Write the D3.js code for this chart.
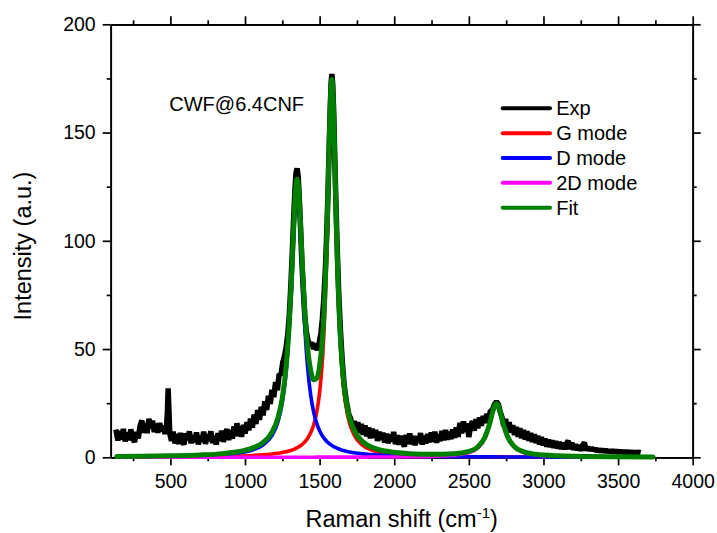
<!DOCTYPE html>
<html>
<head>
<meta charset="utf-8">
<script src="https://cdn.jsdelivr.net/npm/d3@7"></script>
<style>
  body { margin: 0; background: #fff; }
  svg text { font-family: "Liberation Sans", Arial, sans-serif; fill: #000; }
</style>
</head>
<body>
<div id="chart"></div>
<script>

// x ticks / y ticks
let x_major_ticks = [500, 1000, 1500, 2000, 2500, 3000, 3500, 4000];
let x_minor_ticks = [250, 750, 1250, 1750, 2250, 2750, 3250, 3750];
let y_major_ticks = [0, 50, 100, 150, 200];
let y_minor_ticks = [25, 75, 125, 175];

// experimental spectrum, [raman shift, intensity]
let exp_data = [
    [135, 12.8], [148, 7.8], [160, 12.2], [172, 8.2], [185, 13.1], [197, 7.4], [210, 11.4], [222, 8.0],
    [235, 12.9], [247, 8.6], [260, 7.1], [272, 11.7], [285, 8.8], [297, 14.6], [309, 17.0], [320, 11.4],
    [332, 15.7], [344, 11.2], [356, 17.8], [368, 13.5], [380, 16.9], [392, 11.7], [404, 15.6], [416, 11.4],
    [428, 15.8], [440, 12.1], [452, 14.6], [464, 10.8], [474, 14.0], [480, 21.0], [485, 31.8], [490, 22.0],
    [496, 11.0], [507, 7.6], [519, 11.8], [531, 6.4], [543, 10.6], [555, 6.2], [567, 11.2], [579, 7.4],
    [591, 5.9], [603, 11.0], [615, 8.0], [627, 12.0], [639, 6.5], [651, 10.3], [663, 6.9], [675, 11.5],
    [687, 6.0], [699, 9.9], [711, 7.2], [723, 11.8], [735, 6.2], [747, 10.6], [759, 7.5], [771, 12.0],
    [783, 6.6], [795, 9.9], [807, 5.9], [819, 11.2], [831, 7.7], [843, 12.3], [855, 7.1], [867, 10.9],
    [879, 13.0], [891, 8.0], [903, 12.5], [915, 8.6], [927, 14.3], [939, 9.7], [946, 15.8], [953, 10.0],
    [965, 14.2], [977, 9.5], [989, 15.0], [1001, 11.0], [1013, 16.2], [1025, 12.5], [1037, 17.9], [1049, 13.7],
    [1061, 19.7], [1073, 15.4], [1085, 21.8], [1097, 17.3], [1109, 23.3], [1121, 19.4], [1133, 25.8], [1145, 21.9],
    [1157, 28.4], [1169, 24.7], [1181, 31.1], [1193, 27.8], [1205, 34.7], [1217, 31.0], [1229, 38.5], [1241, 38.0],
    [1253, 43.9], [1264, 46.5], [1275, 50.5], [1287, 57.0], [1297, 66.0], [1307, 79.0], [1317, 95.0], [1327, 112.0],
    [1335, 124.0], [1342, 131.5], [1349, 133.5], [1356, 130.0], [1363, 121.0], [1371, 108.0], [1380, 92.0], [1390, 78.0],
    [1400, 66.0], [1410, 58.5], [1422, 54.0], [1435, 51.5], [1447, 53.0], [1460, 50.0], [1472, 52.5], [1485, 49.5],
    [1497, 53.0], [1508, 57.0], [1518, 63.5], [1528, 73.0], [1538, 86.0], [1548, 104.0], [1556, 122.0], [1564, 143.0],
    [1571, 161.0], [1577, 173.0], [1582, 177.0], [1588, 172.0], [1594, 160.0], [1601, 140.0], [1609, 118.0], [1618, 96.0],
    [1628, 76.0], [1640, 58.0], [1652, 44.0], [1665, 33.0], [1680, 25.5], [1695, 20.0], [1708, 17.8], [1720, 13.4],
    [1732, 16.8], [1744, 12.0], [1756, 16.2], [1768, 11.2], [1780, 15.4], [1792, 10.4], [1804, 14.7], [1816, 9.7],
    [1828, 13.8], [1840, 8.8], [1852, 13.2], [1864, 9.1], [1876, 12.6], [1888, 7.6], [1900, 11.8], [1912, 8.1],
    [1924, 11.4], [1936, 6.8], [1948, 10.9], [1960, 6.5], [1972, 10.5], [1984, 7.4], [1996, 11.7], [2008, 6.1],
    [2020, 10.2], [2032, 5.8], [2044, 9.9], [2056, 7.0], [2068, 5.0], [2080, 10.3], [2092, 6.2], [2104, 11.0],
    [2116, 6.0], [2128, 9.8], [2140, 5.6], [2152, 9.7], [2164, 6.7], [2176, 11.2], [2188, 5.9], [2200, 9.9],
    [2212, 6.4], [2224, 10.8], [2236, 7.0], [2248, 11.4], [2260, 7.2], [2272, 11.8], [2284, 6.7], [2296, 10.6],
    [2308, 7.5], [2320, 12.1], [2332, 7.9], [2344, 12.6], [2356, 8.1], [2368, 11.8], [2380, 8.4], [2392, 12.8],
    [2404, 9.0], [2416, 13.8], [2428, 9.4], [2440, 15.9], [2452, 11.1], [2464, 16.6], [2476, 11.8], [2488, 15.7],
    [2500, 9.4], [2512, 14.6], [2524, 16.7], [2536, 12.3], [2548, 17.6], [2560, 13.4], [2572, 18.4], [2584, 14.6],
    [2596, 19.1], [2608, 15.8], [2620, 20.0], [2632, 17.6], [2644, 21.4], [2656, 21.5], [2670, 24.2], [2685, 25.8],
    [2698, 24.5], [2710, 21.0], [2722, 18.6], [2734, 14.4], [2746, 17.7], [2758, 12.8], [2770, 16.2], [2782, 11.4],
    [2794, 14.8], [2806, 10.3], [2818, 14.0], [2830, 9.5], [2842, 13.4], [2854, 8.8], [2866, 12.6], [2878, 8.2],
    [2890, 12.0], [2902, 7.7], [2914, 11.2], [2926, 7.1], [2938, 10.6], [2950, 6.6], [2962, 9.9], [2974, 6.0],
    [2986, 9.4], [2998, 5.5], [3010, 8.7], [3022, 4.9], [3034, 8.2], [3046, 4.7], [3058, 7.8], [3070, 4.4],
    [3082, 7.4], [3094, 4.1], [3106, 7.1], [3118, 3.8], [3130, 6.7], [3142, 3.7], [3154, 6.4], [3166, 7.6],
    [3178, 3.8], [3190, 6.7], [3202, 3.5], [3214, 6.0], [3226, 3.3], [3238, 5.6], [3250, 3.1], [3262, 5.5],
    [3274, 6.8], [3286, 3.2], [3298, 4.6], [3310, 3.4], [3322, 4.3], [3334, 3.2], [3346, 4.0], [3358, 2.9],
    [3370, 3.7], [3382, 2.7], [3394, 3.5], [3406, 2.6], [3418, 3.4], [3430, 2.5], [3442, 3.2], [3454, 2.4],
    [3466, 3.1], [3478, 2.3], [3490, 3.0], [3502, 2.2], [3514, 2.9], [3526, 2.1], [3538, 2.8], [3550, 2.0],
    [3562, 2.7], [3574, 2.0], [3586, 2.6], [3598, 1.9], [3610, 2.5], [3622, 1.9], [3634, 2.4], [3651, 2.1]
];

// raman shift grid of the fitted curves
let fit_shift = [140, 300, 500, 700, 850, 950, 1050, 1120, 1180, 1220,
                 1250, 1275, 1295, 1310, 1322, 1332, 1340, 1349, 1358, 1366,
                 1376, 1388, 1402, 1420, 1440, 1460, 1480, 1500, 1520, 1538,
                 1552, 1562, 1570, 1576, 1582, 1588, 1594, 1602, 1612, 1625,
                 1640, 1660, 1690, 1730, 1790, 1870, 1970, 2100, 2250, 2400,
                 2500, 2560, 2610, 2640, 2660, 2675, 2685, 2695, 2710, 2730,
                 2760, 2800, 2860, 2950, 3100, 3300, 3500, 3735];

let g_mode = [0.12, 0.15, 0.21, 0.31, 0.45, 0.61, 0.86, 1.14, 1.50, 1.84,
              2.19, 2.55, 2.91, 3.24, 3.53, 3.82, 4.07, 4.38, 4.73, 5.07,
              5.56, 6.25, 7.21, 8.82, 11.3, 14.9, 20.6, 29.9, 46.1, 72.2,
              104.1, 132.3, 153.7, 164.9, 169, 164.9, 153.7, 132.3, 104.1, 74.1,
              50.8, 32.4, 18.6, 10.5, 5.46, 2.89, 1.60, 0.90, 0.55, 0.36,
              0.29, 0.25, 0.23, 0.22, 0.21, 0.21, 0.20, 0.20, 0.19, 0.19,
              0.18, 0.16, 0.15, 0.13, 0.11, 0.08, 0.07, 0.05];

let d_mode = [0.21, 0.28, 0.43, 0.73, 1.23, 1.92, 3.37, 5.64, 9.98, 16.2,
              25.2, 38.9, 57.2, 77.1, 96.0, 111.2, 120.1, 124, 120.1, 111.2,
              96.0, 77.1, 58.4, 41.1, 28.8, 20.9, 15.8, 12.25, 9.76, 8.11,
              7.09, 6.48, 6.04, 5.74, 5.46, 5.20, 4.96, 4.66, 4.33, 3.94,
              3.56, 3.12, 2.61, 2.10, 1.57, 1.13, 0.80, 0.55, 0.38, 0.28,
              0.23, 0.21, 0.19, 0.19, 0.18, 0.18, 0.17, 0.17, 0.17, 0.16,
              0.16, 0.15, 0.14, 0.12, 0.10, 0.08, 0.07, 0.05];

let mode_2d = [0.01, 0.01, 0.02, 0.02, 0.02, 0.03, 0.03, 0.03, 0.04, 0.04,
               0.04, 0.04, 0.04, 0.04, 0.04, 0.04, 0.05, 0.05, 0.05, 0.05,
               0.05, 0.05, 0.05, 0.05, 0.05, 0.05, 0.06, 0.06, 0.06, 0.06,
               0.06, 0.06, 0.06, 0.06, 0.06, 0.06, 0.07, 0.07, 0.07, 0.07,
               0.07, 0.08, 0.08, 0.09, 0.10, 0.12, 0.16, 0.24, 0.43, 0.97,
               2.19, 4.34, 9.17, 15.3, 20.7, 23.8, 24.5, 23.8, 20.7, 15.3,
               9.17, 4.97, 2.43, 1.12, 0.47, 0.22, 0.12, 0.07];

let fit_total = [0.34, 0.44, 0.66, 1.06, 1.70, 2.56, 4.26, 6.81, 11.52, 18.08,
                 27.43, 41.49, 60.15, 80.38, 99.57, 115.06, 124.22, 128.43, 124.88, 116.32,
                 101.61, 83.4, 65.66, 49.97, 40.15, 35.85, 36.46, 42.21, 55.92, 80.37,
                 111.25, 138.84, 159.8, 170.7, 174.52, 170.16, 158.73, 137.03, 108.5, 78.11,
                 54.43, 35.6, 21.29, 12.69, 7.13, 4.14, 2.56, 1.69, 1.36, 1.61,
                 2.71, 4.8, 9.59, 15.71, 21.09, 24.19, 24.87, 24.17, 21.06, 15.65,
                 9.51, 5.28, 2.72, 1.37, 0.68, 0.38, 0.26, 0.17];

let legend_labels = ["Exp", "G mode", "D mode", "2D mode", "Fit"];
let legend_colors = ["#000000", "#ff0000", "#0000ff", "#ff00ff", "#008000"];

let chart_width = 717;
let chart_height = 533;

let margin_top = 24.3;
let margin_left = 110.7;
let width = 582;
let height = 433;

let svg = d3.select("#chart")
            .append("svg")
            .attr("width", chart_width)
            .attr("height", chart_height);

let g = svg.append("g")
           .attr("transform", "translate(" + margin_left + "," + margin_top + ")");

let xScale = d3.scaleLinear().domain([100, 4000]).range([0, width]);
let yScale = d3.scaleLinear().domain([0, 200]).range([height, 0]);

let tick_font = 19.5;

function style_axis(sel) {
    sel.selectAll("path.domain").attr("stroke", "#000").attr("stroke-width", 1.7);
    sel.selectAll(".tick line").attr("stroke", "#000").attr("stroke-width", 1.7);
    sel.selectAll("text").style("font-size", tick_font + "px").attr("fill", "#000");
    sel.attr("font-family", null);
}

// minor ticks first, then the major ones with labels
let x_bottom_minor = g.append("g").attr("transform", "translate(0," + height + ")")
    .call(d3.axisBottom(xScale).tickValues(x_minor_ticks).tickSize(4).tickSizeOuter(0).tickFormat(""));
let x_bottom = g.append("g").attr("transform", "translate(0," + height + ")")
    .call(d3.axisBottom(xScale).tickValues(x_major_ticks).tickSizeInner(8).tickSizeOuter(0)
          .tickPadding(9).tickFormat(d3.format("d")));
let x_top_minor = g.append("g")
    .call(d3.axisTop(xScale).tickValues(x_minor_ticks).tickSize(4).tickSizeOuter(0).tickFormat(""));
let x_top = g.append("g")
    .call(d3.axisTop(xScale).tickValues(x_major_ticks).tickSizeInner(8).tickSizeOuter(0).tickFormat(""));

let y_left_minor = g.append("g")
    .call(d3.axisLeft(yScale).tickValues(y_minor_ticks).tickSize(4).tickSizeOuter(0).tickFormat(""));
let y_left = g.append("g")
    .call(d3.axisLeft(yScale).tickValues(y_major_ticks).tickSizeInner(8).tickSizeOuter(0)
          .tickPadding(7).tickFormat(d3.format("d")));
let y_right_minor = g.append("g").attr("transform", "translate(" + width + ",0)")
    .call(d3.axisRight(yScale).tickValues(y_minor_ticks).tickSize(4).tickSizeOuter(0).tickFormat(""));
let y_right = g.append("g").attr("transform", "translate(" + width + ",0)")
    .call(d3.axisRight(yScale).tickValues(y_major_ticks).tickSizeInner(8).tickSizeOuter(0).tickFormat(""));

[x_bottom_minor, x_bottom, x_top_minor, x_top, y_left_minor, y_left, y_right_minor, y_right].forEach(style_axis);

// curves
let exp_line = d3.line()
    .x(function(d) { return xScale(d[0]); })
    .y(function(d) { return yScale(d[1]); });

let fit_line = d3.line()
    .x(function(d, i) { return xScale(fit_shift[i]); })
    .y(function(d) { return yScale(d); })
    .curve(d3.curveMonotoneX);

g.append("path")
    .datum(exp_data)
    .attr("d", exp_line)
    .attr("fill", "none")
    .attr("stroke", legend_colors[0])
    .attr("stroke-width", 5.5)
    .attr("stroke-linejoin", "bevel");

let fit_series = [
    {values: g_mode, color: legend_colors[1], w: 3.6},
    {values: d_mode, color: legend_colors[2], w: 3.6},
    {values: mode_2d, color: legend_colors[3], w: 3.6},
    {values: fit_total, color: legend_colors[4], w: 5}
];

fit_series.forEach(function(s) {
    g.append("path")
        .datum(s.values)
        .attr("d", fit_line)
        .attr("fill", "none")
        .attr("stroke", s.color)
        .attr("stroke-width", s.w)
        .attr("stroke-linejoin", "round")
        .attr("stroke-linecap", "round");
});

// sample name
svg.append("text")
    .attr("x", 169.3)
    .attr("y", 111)
    .style("font-size", "20px")
    .text("CWF@6.4CNF");

// legend
let legend = svg.append("g").attr("transform", "translate(502.7,108.3)");
legend_labels.forEach(function(name, i) {
    let row = legend.append("g").attr("transform", "translate(0," + (i * 24.85) + ")");
    row.append("line")
        .attr("x1", 0).attr("x2", 47.3)
        .attr("y1", 0).attr("y2", 0)
        .attr("stroke", legend_colors[i])
        .attr("stroke-width", 4)
        .attr("stroke-linecap", "round");
    row.append("text")
        .attr("x", 53.5)
        .attr("y", 6.8)
        .style("font-size", "20px")
        .text(name);
});

// axis titles
let x_title = svg.append("text")
    .attr("x", margin_left + width / 2)
    .attr("y", 527)
    .attr("text-anchor", "middle")
    .style("font-size", "23.5px");
x_title.append("tspan").text("Raman shift (cm");
x_title.append("tspan").attr("dy", -9.5).style("font-size", "15px").text("-1");
x_title.append("tspan").attr("dy", 9.5).text(")");

svg.append("text")
    .attr("transform", "translate(31,246) rotate(-90)")
    .attr("text-anchor", "middle")
    .style("font-size", "23.5px")
    .text("Intensity (a.u.)");

</script>
</body>
</html>
